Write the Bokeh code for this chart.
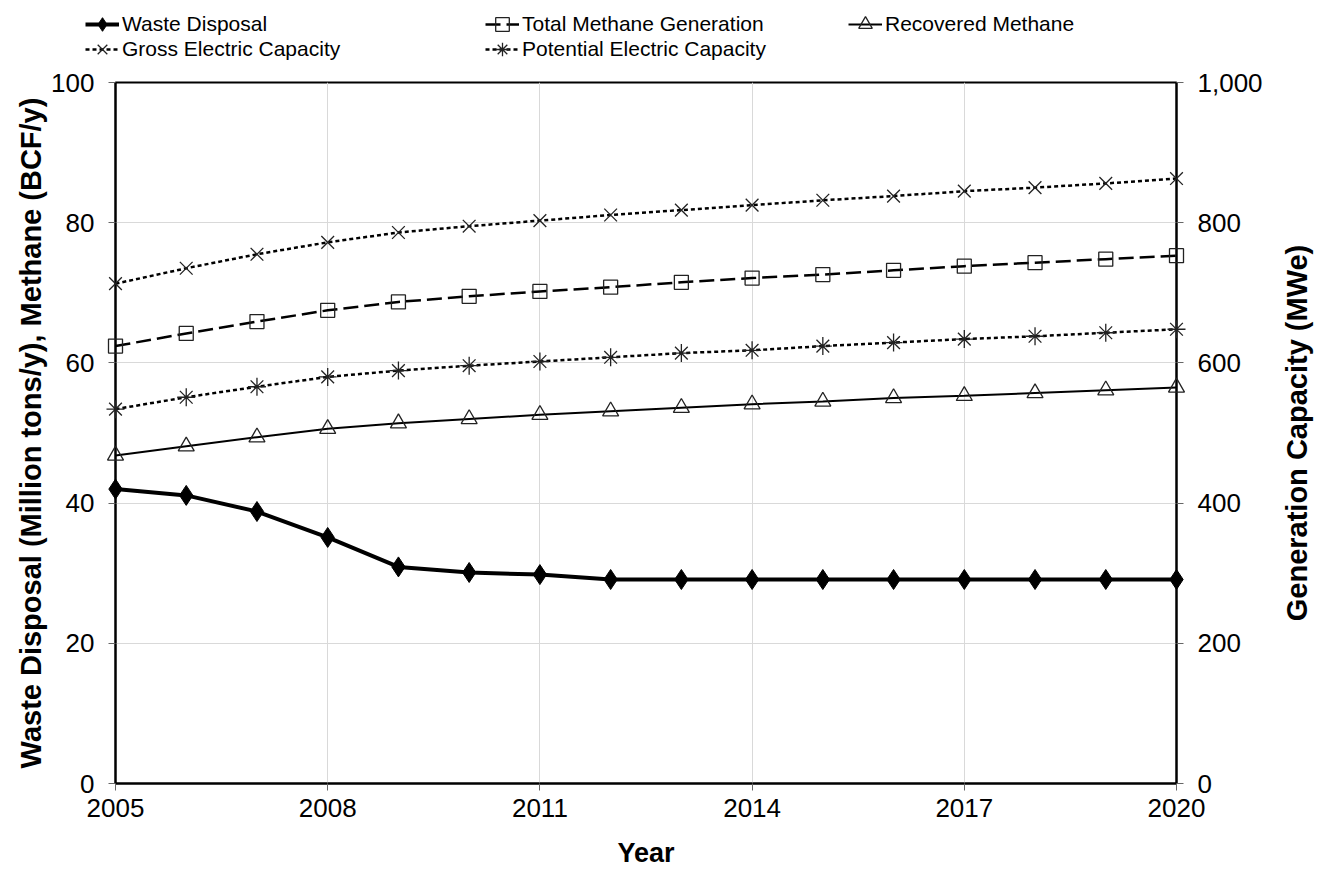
import math
from bokeh.plotting import figure
from bokeh.layouts import column, row
from bokeh.models import (Range1d, LinearAxis, Legend, LegendItem, FixedTicker,
                          NumeralTickFormatter, Grid, Label)
from bokeh.embed import file_html
from bokeh.resources import INLINE

years = list(range(2005, 2021))
waste_disposal = [42.0, 41.1, 38.8, 35.1, 30.9, 30.1, 29.8, 29.1, 29.1, 29.1, 29.1, 29.1, 29.1, 29.1, 29.1, 29.1]
total_methane = [62.4, 64.2, 65.9, 67.5, 68.7, 69.5, 70.2, 70.8, 71.5, 72.1, 72.6, 73.2, 73.8, 74.3, 74.8, 75.3]
recovered_methane = [46.8, 48.1, 49.4, 50.6, 51.4, 52.0, 52.6, 53.1, 53.6, 54.1, 54.5, 55.0, 55.3, 55.7, 56.1, 56.5]
gross_capacity = [713, 735, 755, 772, 786, 795, 803, 811, 818, 825, 832, 838, 845, 850, 856, 863]
potential_capacity = [534, 551, 566, 580, 589, 596, 602, 608, 614, 618, 624, 629, 634, 638, 643, 648]

series_labels = ["Waste Disposal", "Total Methane Generation", "Recovered Methane",
                 "Gross Electric Capacity", "Potential Electric Capacity"]

x_ticks = [2005, 2008, 2011, 2014, 2017, 2020]
left_ticks = [0, 20, 40, 60, 80, 100]
right_ticks = [0, 200, 400, 600, 800, 1000]

x_title = "Year"
left_title = "Waste Disposal (Million tons/y), Methane (BCF/y)"
right_title = "Generation Capacity (MWe)"

FONT = "Liberation Sans"
TICK_SIZE = "26px"
VLABEL_SIZE = "29px"
XLABEL_SIZE = "27px"
LEG_SIZE = "21px"
MK = "#222222"

STYLES = [
    (dict(line_color="black", line_width=4),
     dict(marker="diamond", size=20, fill_color="black", line_color="black", line_width=1)),
    (dict(line_color="black", line_width=2.5, line_dash="15 6"),
     dict(marker="square", size=14, fill_color=None, line_color=MK, line_width=1.3)),
    (dict(line_color="black", line_width=2),
     dict(marker="triangle", size=16, fill_color=None, line_color=MK, line_width=1.3)),
    (dict(line_color="black", line_width=2.5, line_dash="4 3"),
     dict(marker="x", size=18, fill_color=None, line_color=MK, line_width=1.3)),
    (dict(line_color="black", line_width=2.5, line_dash="4 3"),
     dict(marker="asterisk", size=18, fill_color=None, line_color=MK, line_width=1.3)),
]

LEG_H = 66            # height of the legend strip
TOP = 16              # main figure border above the frame
BOTTOM = 88
MAIN_H = 871 - LEG_H
RLAB_W = 36
MAIN_W = 1316 - RLAB_W


def bare(fig):
    fig.xaxis.visible = False
    fig.yaxis.visible = False
    fig.xgrid.visible = False
    fig.ygrid.visible = False
    fig.outline_line_color = None
    fig.background_fill_color = "white"
    fig.border_fill_color = "white"


# ---------------- main chart ----------------
p = figure(width=MAIN_W, height=MAIN_H, output_backend="svg", toolbar_location=None,
           x_range=Range1d(2005, 2020), y_range=Range1d(0, 100),
           min_border_left=115, min_border_right=MAIN_W - 1176, min_border_top=TOP,
           min_border_bottom=BOTTOM)
p.extra_y_ranges = {"mw": Range1d(0, 1000)}
bare(p)
p.outline_line_color = "black"
p.outline_line_width = 2

xaxis = LinearAxis(ticker=FixedTicker(ticks=x_ticks), axis_label=x_title)
yaxis = LinearAxis(ticker=FixedTicker(ticks=left_ticks), axis_label=left_title)
raxis = LinearAxis(y_range_name="mw", ticker=FixedTicker(ticks=right_ticks),
                   formatter=NumeralTickFormatter(format="0,0"))
for ax in (xaxis, yaxis, raxis):
    ax.axis_line_color = "black"
    ax.axis_line_width = 2
    ax.major_tick_line_color = "#666666"
    ax.major_tick_in = 0
    ax.major_tick_out = 7
    ax.minor_tick_line_color = None
    ax.major_label_text_font = FONT
    ax.major_label_text_font_size = TICK_SIZE
    ax.major_label_text_color = "black"
    ax.axis_label_text_font = FONT
    ax.axis_label_text_font_size = VLABEL_SIZE
    ax.axis_label_text_font_style = "bold"
    ax.axis_label_text_color = "black"
xaxis.axis_label_text_font_size = XLABEL_SIZE
xaxis.major_label_text_line_height = 1.0
xaxis.axis_label_text_line_height = 1.0
xaxis.major_label_standoff = 8
xaxis.axis_label_standoff = 18
yaxis.major_label_standoff = 14
yaxis.axis_label_standoff = 1
raxis.major_label_standoff = 14
p.add_layout(xaxis, "below")
p.add_layout(yaxis, "left")
p.add_layout(raxis, "right")

p.add_layout(Grid(dimension=0, ticker=xaxis.ticker, grid_line_color="#d9d9d9", grid_line_width=1))
p.add_layout(Grid(dimension=1, ticker=yaxis.ticker, grid_line_color="#d9d9d9", grid_line_width=1))

data = [(waste_disposal, "default"), (total_methane, "default"), (recovered_methane, "default"),
        (gross_capacity, "mw"), (potential_capacity, "mw")]
for (vals, rng), (lstyle, mstyle) in zip(data, STYLES):
    lr = p.line(years, vals, y_range_name=rng, **lstyle)
    mr = p.scatter(years, vals, y_range_name=rng, **mstyle)
    lr.level = "overlay"
    mr.level = "overlay"

# ---------------- right axis title (reads bottom to top) ----------------
rl = figure(width=RLAB_W, height=MAIN_H, output_backend="svg", toolbar_location=None,
            x_range=Range1d(0, 1), y_range=Range1d(0, 1),
            min_border_left=0, min_border_right=0, min_border_top=TOP,
            min_border_bottom=BOTTOM)
bare(rl)
rl.add_layout(Label(x=0.45, y=0.5, text=right_title, angle=math.pi / 2,
                    text_align="center", text_baseline="middle", text_font=FONT,
                    text_font_size=VLABEL_SIZE, text_font_style="bold", text_color="black"))

# ---------------- legend strip above ----------------
lg = figure(width=MAIN_W + RLAB_W, height=LEG_H, output_backend="svg", toolbar_location=None,
            x_range=Range1d(0, 1), y_range=Range1d(0, 1),
            min_border_left=0, min_border_right=0, min_border_top=0, min_border_bottom=0)
bare(lg)

LEG_POS = [(85, 25), (485, 25), (848, 25), (85, 0), (485, 0)]
for label, (vals, rng), (lstyle, mstyle), loc in zip(series_labels, data, STYLES, LEG_POS):
    # series sit far outside this strip's range: only their legend samples show
    lr = lg.line(years, vals, **lstyle)
    mr = lg.scatter(years, vals, **mstyle)
    leg = Legend(items=[LegendItem(label=label, renderers=[lr, mr])], location=loc,
                 orientation="horizontal", padding=0, margin=0, spacing=0,
                 glyph_width=34, glyph_height=34, label_standoff=3,
                 label_height=34, label_text_font=FONT, label_text_font_size=LEG_SIZE,
                 label_text_color="black", background_fill_alpha=0,
                 border_line_color=None)
    lg.add_layout(leg, "center")

layout = column(row(lg), row(p, column(rl)), spacing=0)
open("out.html", "w").write(file_html(layout, INLINE))
